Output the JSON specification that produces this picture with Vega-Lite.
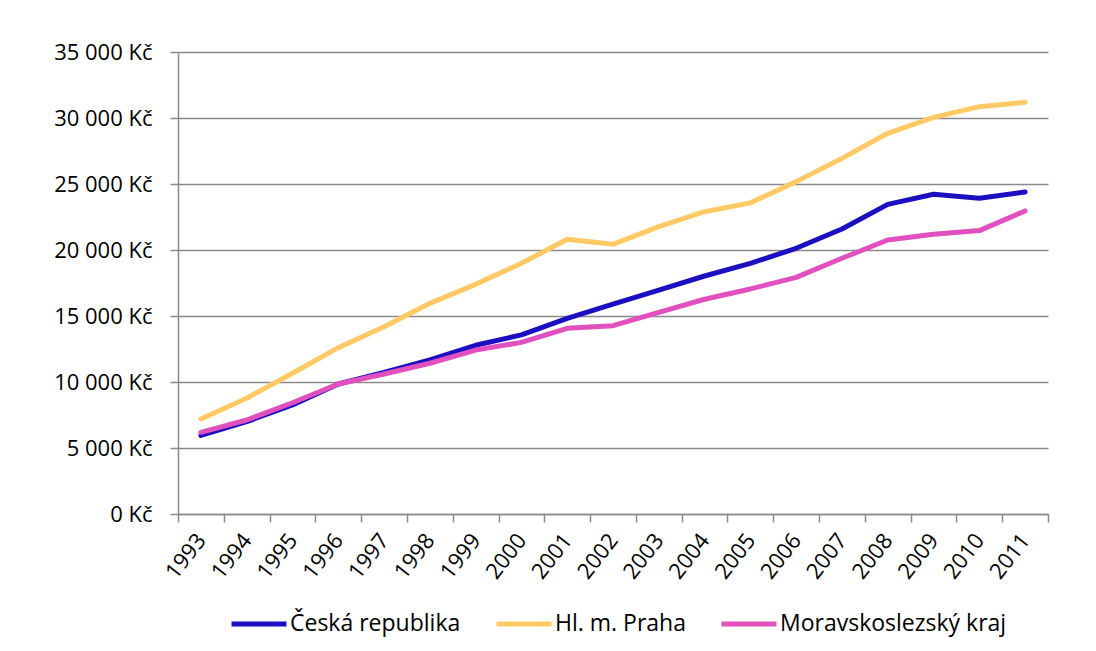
{
  "$schema": "https://vega.github.io/schema/vega-lite/v6.json",
  "width": 870,
  "height": 462,
  "autosize": {"type": "none"},
  "padding": {"left": 178, "top": 52, "right": 48, "bottom": 137},
  "background": "white",
  "data": {
    "values": [
      {"year": "1993", "series": "Česká republika", "value": 5950},
      {"year": "1994", "series": "Česká republika", "value": 7000},
      {"year": "1995", "series": "Česká republika", "value": 8260},
      {"year": "1996", "series": "Česká republika", "value": 9850},
      {"year": "1997", "series": "Česká republika", "value": 10720},
      {"year": "1998", "series": "Česká republika", "value": 11680},
      {"year": "1999", "series": "Česká republika", "value": 12780},
      {"year": "2000", "series": "Česká republika", "value": 13570},
      {"year": "2001", "series": "Česká republika", "value": 14820},
      {"year": "2002", "series": "Česká republika", "value": 15900},
      {"year": "2003", "series": "Česká republika", "value": 16960},
      {"year": "2004", "series": "Česká republika", "value": 18030},
      {"year": "2005", "series": "Česká republika", "value": 18990},
      {"year": "2006", "series": "Česká republika", "value": 20130},
      {"year": "2007", "series": "Česká republika", "value": 21590},
      {"year": "2008", "series": "Česká republika", "value": 23460},
      {"year": "2009", "series": "Česká republika", "value": 24220},
      {"year": "2010", "series": "Česká republika", "value": 23920},
      {"year": "2011", "series": "Česká republika", "value": 24400},
      {"year": "1993", "series": "Hl. m. Praha", "value": 7200},
      {"year": "1994", "series": "Hl. m. Praha", "value": 8770},
      {"year": "1995", "series": "Hl. m. Praha", "value": 10660},
      {"year": "1996", "series": "Hl. m. Praha", "value": 12600},
      {"year": "1997", "series": "Hl. m. Praha", "value": 14190},
      {"year": "1998", "series": "Hl. m. Praha", "value": 15960},
      {"year": "1999", "series": "Hl. m. Praha", "value": 17400},
      {"year": "2000", "series": "Hl. m. Praha", "value": 18990},
      {"year": "2001", "series": "Hl. m. Praha", "value": 20810},
      {"year": "2002", "series": "Hl. m. Praha", "value": 20430},
      {"year": "2003", "series": "Hl. m. Praha", "value": 21770},
      {"year": "2004", "series": "Hl. m. Praha", "value": 22900},
      {"year": "2005", "series": "Hl. m. Praha", "value": 23570},
      {"year": "2006", "series": "Hl. m. Praha", "value": 25180},
      {"year": "2007", "series": "Hl. m. Praha", "value": 26940},
      {"year": "2008", "series": "Hl. m. Praha", "value": 28840},
      {"year": "2009", "series": "Hl. m. Praha", "value": 30050},
      {"year": "2010", "series": "Hl. m. Praha", "value": 30860},
      {"year": "2011", "series": "Hl. m. Praha", "value": 31190},
      {"year": "1993", "series": "Moravskoslezský kraj", "value": 6190},
      {"year": "1994", "series": "Moravskoslezský kraj", "value": 7120},
      {"year": "1995", "series": "Moravskoslezský kraj", "value": 8430},
      {"year": "1996", "series": "Moravskoslezský kraj", "value": 9850},
      {"year": "1997", "series": "Moravskoslezský kraj", "value": 10610},
      {"year": "1998", "series": "Moravskoslezský kraj", "value": 11420},
      {"year": "1999", "series": "Moravskoslezský kraj", "value": 12420},
      {"year": "2000", "series": "Moravskoslezský kraj", "value": 13000},
      {"year": "2001", "series": "Moravskoslezský kraj", "value": 14070},
      {"year": "2002", "series": "Moravskoslezský kraj", "value": 14270},
      {"year": "2003", "series": "Moravskoslezský kraj", "value": 15280},
      {"year": "2004", "series": "Moravskoslezský kraj", "value": 16270},
      {"year": "2005", "series": "Moravskoslezský kraj", "value": 17050},
      {"year": "2006", "series": "Moravskoslezský kraj", "value": 17930},
      {"year": "2007", "series": "Moravskoslezský kraj", "value": 19370},
      {"year": "2008", "series": "Moravskoslezský kraj", "value": 20760},
      {"year": "2009", "series": "Moravskoslezský kraj", "value": 21190},
      {"year": "2010", "series": "Moravskoslezský kraj", "value": 21470},
      {"year": "2011", "series": "Moravskoslezský kraj", "value": 22960}
    ]
  },
  "mark": {"type": "line", "strokeWidth": 5, "strokeCap": "round", "strokeJoin": "round"},
  "encoding": {
    "x": {
      "field": "year",
      "type": "ordinal",
      "bandPosition": 0.5,
      "scale": {"type": "band", "paddingInner": 0, "paddingOuter": 0},
      "axis": {
        "title": null,
        "labelAngle": -52,
        "labelFontSize": 22,
        "labelPadding": 14,
        "tickBand": "extent",
        "tickSize": 8,
        "grid": false
      }
    },
    "y": {
      "field": "value",
      "type": "quantitative",
      "scale": {"domain": [0, 35000], "nice": false},
      "axis": {
        "title": null,
        "values": [0, 5000, 10000, 15000, 20000, 25000, 30000, 35000],
        "labelExpr": "replace(format(datum.value, ','), ',', ' ') + ' Kč'",
        "labelFontSize": 22,
        "labelPadding": 18,
        "tickSize": 8,
        "grid": true
      }
    },
    "color": {
      "field": "series",
      "type": "nominal",
      "sort": ["Česká republika", "Hl. m. Praha", "Moravskoslezský kraj"],
      "scale": {
        "domain": ["Česká republika", "Hl. m. Praha", "Moravskoslezský kraj"],
        "range": ["#1c0fbf", "#ffc966", "#e050be"]
      },
      "legend": {
        "title": null,
        "orient": "none",
        "legendX": 51,
        "legendY": 542,
        "direction": "horizontal",
        "symbolType": "stroke",
        "symbolSize": 3025,
        "symbolStrokeWidth": 5,
        "labelFontSize": 23,
        "labelOffset": 1,
        "columnPadding": 25,
        "labelLimit": 400
      }
    }
  },
  "config": {
    "font": "Open Sans",
    "view": {"stroke": null},
    "axis": {
      "domainColor": "#8a8a8a",
      "domainWidth": 1.5,
      "tickColor": "#8a8a8a",
      "tickWidth": 1.5,
      "gridColor": "#8a8a8a",
      "gridWidth": 1.5,
      "labelColor": "#000000",
      "labelFont": "Open Sans"
    },
    "legend": {"labelColor": "#000000", "labelFont": "Open Sans"}
  }
}
